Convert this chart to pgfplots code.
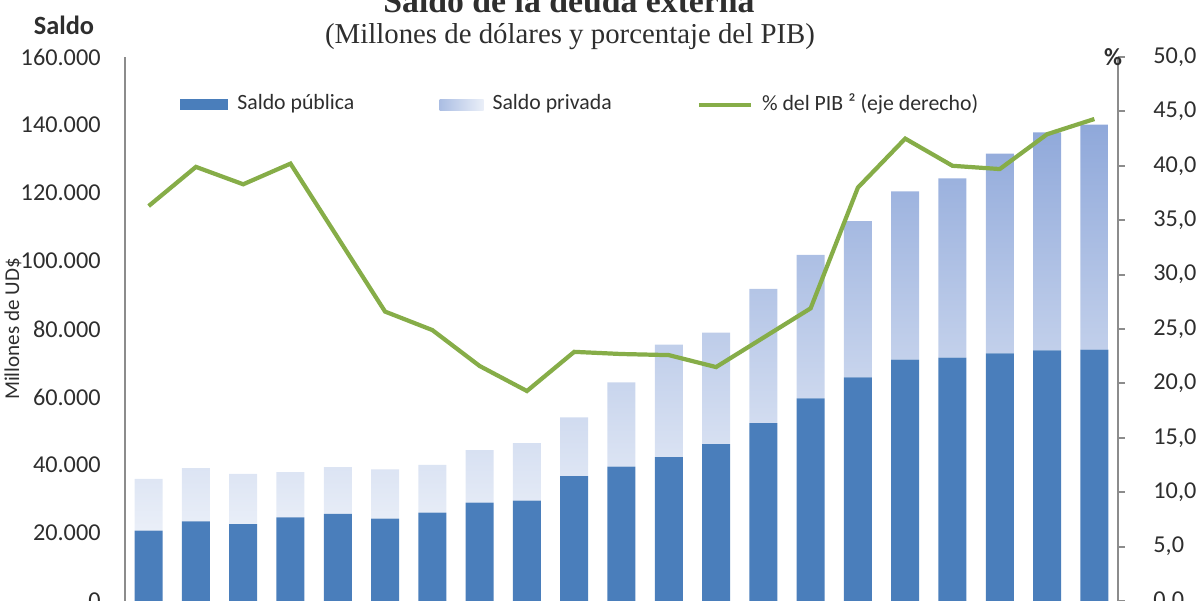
\documentclass[border=0pt]{standalone}
\usepackage{fontspec}
\setmainfont{Carlito}
\newfontfamily\seriffont{Liberation Serif}
\usepackage{pgfplots}
\pgfplotsset{compat=1.18}
\definecolor{pub}{HTML}{4A7EBB}
\definecolor{privtop}{HTML}{8FA8DA}
\definecolor{privbot}{HTML}{EAEFF8}
\definecolor{lgreen}{HTML}{86AD48}
\definecolor{axgray}{HTML}{8C8C8C}
\definecolor{txt}{HTML}{2E2E2E}
\begin{document}
\begin{tikzpicture}
\useasboundingbox (-1.25cm,0cm) rectangle (10.75cm,6.01cm);
\begin{axis}[
  scale only axis, width=9.93cm, height=5.44cm,
  xmin=-0.5, xmax=20.5, ymin=0, ymax=160000,
  axis y line*=left, axis x line=none,
  y axis line style={draw=axgray, line width=0.6pt},
  ybar stacked, bar width=0.28cm,
  ytick={0,20000,40000,60000,80000,100000,120000,140000,160000},
  scaled y ticks=false,
  major tick length=0pt,
  yticklabel style={font=\fontsize{6.9}{8}\selectfont, text=txt, xshift=-0.12cm,
    /pgf/number format/.cd, fixed, 1000 sep={.}, assume math mode=true},
  clip=false,
]
\addplot[fill=pub, draw=none] coordinates {
(0,20700) (1,23400) (2,22600) (3,24600) (4,25600) (5,24200) (6,26000)
(7,28900) (8,29500) (9,36700) (10,39500) (11,42300) (12,46100) (13,52300)
(14,59600) (15,65800) (16,71000) (17,71600) (18,72800) (19,73700) (20,73900)};
\addplot[draw=none, top color=privtop, bottom color=privbot] coordinates {
(0,15200) (1,15700) (2,14800) (3,13300) (4,13800) (5,14500) (6,14000)
(7,15500) (8,16900) (9,17300) (10,24800) (11,33100) (12,32800) (13,39500)
(14,42200) (15,45900) (16,49500) (17,52700) (18,58800) (19,64100) (20,66200)};
\end{axis}
\begin{axis}[
  scale only axis, width=9.93cm, height=5.44cm,
  xmin=-0.5, xmax=20.5, ymin=0, ymax=50,
  axis y line*=right, axis x line=none,
  y axis line style={draw=axgray, line width=0.6pt},
  ytick={0,5,10,15,20,25,30,35,40,45,50},
  tick align=outside, major tick length=0.07cm,
  every tick/.style={axgray, line width=0.6pt},
  yticklabel style={font=\fontsize{6.9}{8}\selectfont, text=txt, xshift=0.16cm,
    /pgf/number format/.cd, fixed, fixed zerofill, precision=1, use comma, assume math mode=true},
  clip=false,
  legend columns=3,
  legend style={at={(0.055,0.912)}, anchor=west, draw=none, fill=none,
    font=\fontsize{6.2}{7.5}\selectfont, text=txt, inner sep=0pt,
    /tikz/every odd column/.append style={column sep=0.02cm},
    /tikz/every even column/.append style={column sep=0.78cm}},
]
\addlegendimage{legend image code/.code={\fill[pub, draw=none] (0cm,-0.055cm) rectangle (0.48cm,0.055cm);}}
\addlegendentry{Saldo pública}
\addlegendimage{legend image code/.code={\shade[draw=none, left color=privtop!75!white, right color=privbot] (0cm,-0.055cm) rectangle (0.44cm,0.055cm);}}
\addlegendentry{Saldo privada}
\addplot[lgreen, line width=1.2pt, mark=none,
  legend image code/.code={\draw[lgreen, line width=1.2pt] (0cm,0cm) -- (0.52cm,0cm);}] coordinates {
(0,36.3) (1,39.9) (2,38.3) (3,40.2) (4,33.4) (5,26.6) (6,24.9) (7,21.6)
(8,19.3) (9,22.9) (10,22.7) (11,22.6) (12,21.5) (13,24.2) (14,26.9)
(15,38.0) (16,42.5) (17,40.0) (18,39.7) (19,42.9) (20,44.3)};
\addlegendentry{\% del PIB ² (eje derecho)}
\end{axis}
\node[font=\seriffont\bfseries\fontsize{9.6}{11}\selectfont, text=txt, anchor=base] at (4.44cm,5.88cm) {Saldo de la deuda externa};
\node[font=\seriffont\fontsize{8.2}{10}\selectfont, text=txt, anchor=base] at (4.45cm,5.57cm) {(Millones de dólares y porcentaje del PIB)};
\node[font=\bfseries\fontsize{7.5}{9}\selectfont, text=txt] at (-0.61cm,5.76cm) {Saldo};
\node[font=\bfseries\fontsize{7}{8}\selectfont, text=txt] at (9.88cm,5.44cm) {\%};
\node[font=\fontsize{6}{7}\selectfont, text=txt, rotate=90] at (-1.12cm,2.72cm) {Millones de UD\$};
\end{tikzpicture}
\end{document}
